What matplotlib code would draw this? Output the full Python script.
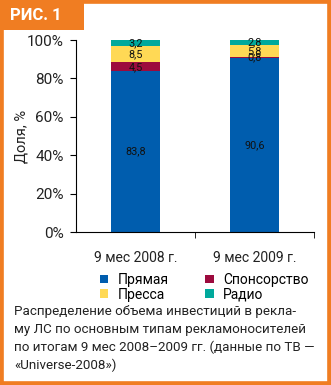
import matplotlib.pyplot as plt
from matplotlib.patches import Rectangle

plt.rcParams["font.family"] = ["Roboto", "DejaVu Sans"]

# Доли по типам рекламоносителей, %
periods = ["9 мес 2008 г.", "9 мес 2009 г."]
series = ["Прямая", "Спонсорство", "Пресса", "Радио"]
direct = [83.8, 90.6]
sponsor = [4.5, 0.8]
press = [8.5, 5.8]
radio = [3.2, 2.8]
yticks = [0, 20, 40, 60, 80, 100]
caption = ["Распределение объема инвестиций в рекла-",
           "му ЛС по основным типам рекламоносителей",
           "по итогам 9 мес 2008–2009 гг. (данные по ТВ —",
           "«Universe-2008»)"]

colors = ["#005DAE", "#9C0A3D", "#FFD955", "#00A99C"]
orange = "#F07D22"
txt = "#222222"

fig = plt.figure(figsize=(3.31, 3.85), dpi=100)
W, H = 331, 385

# рамка и плашка с номером рисунка
fig.patches.append(Rectangle((0, 0), 1, 1, transform=fig.transFigure,
                             facecolor="none", edgecolor=orange, linewidth=5.5))
fig.patches.append(Rectangle((0, 1 - 30 / H), 84 / W, 30 / H, transform=fig.transFigure,
                             facecolor=orange, edgecolor="none"))
fig.text(10 / W, 1 - 16 / H, "РИС. 1", color="white", fontsize=12, fontweight="bold",
         va="center", ha="left")

ax = fig.add_axes([76 / W, (H - 232) / H, (314 - 76) / W, (232 - 40) / H])

x = list(range(len(periods)))
bottom = [0, 0]
bars = []
for vals, col in zip([direct, sponsor, press, radio], colors):
    b = ax.bar(x, vals, width=0.41, bottom=bottom, color=col)
    bars.append(b)
    ax.bar_label(b, labels=[str(v).replace(".", ",") for v in vals], label_type="center",
                 fontsize=7.8, color="#111111")
    bottom = [bt + v for bt, v in zip(bottom, vals)]

ax.set_xlim(-0.5, 1.5)
ax.set_ylim(0, 100)
ax.set_yticks(yticks)
ax.set_yticklabels([f"{t}%" for t in yticks], fontsize=11, color=txt)
ax.set_xticks(x)
ax.set_xticklabels(periods, fontsize=10, color=txt)
ax.tick_params(axis="x", length=0, pad=14)
ax.set_xticks([0.5, 1.5], minor=True)
ax.tick_params(axis="x", which="minor", length=4, direction="out")
ax.tick_params(axis="y", length=4, direction="out", pad=5)
ax.set_ylabel("Доля, %", fontsize=10.5, color=txt)
ax.yaxis.set_label_coords(-47 / (314 - 76), 0.5)
for s in ["top", "right"]:
    ax.spines[s].set_visible(False)

fig.legend([bars[0], bars[2], bars[1], bars[3]],
           [series[0], series[2], series[1], series[3]],
           ncol=2, frameon=False, fontsize=10, loc="upper left",
           bbox_to_anchor=(93 / W, 1 - 266 / H), handlelength=0.6, handleheight=0.6,
           handletextpad=0.7, columnspacing=2.6, labelspacing=0.05, borderpad=0)

# подпись к рисунку, построчно
for i, line in enumerate(caption):
    fig.text(14 / W, 1 - (312 + 17.7 * i) / H, line, fontsize=9.6, color=txt,
             va="center", ha="left")

fig.savefig("out.png", dpi=100)
